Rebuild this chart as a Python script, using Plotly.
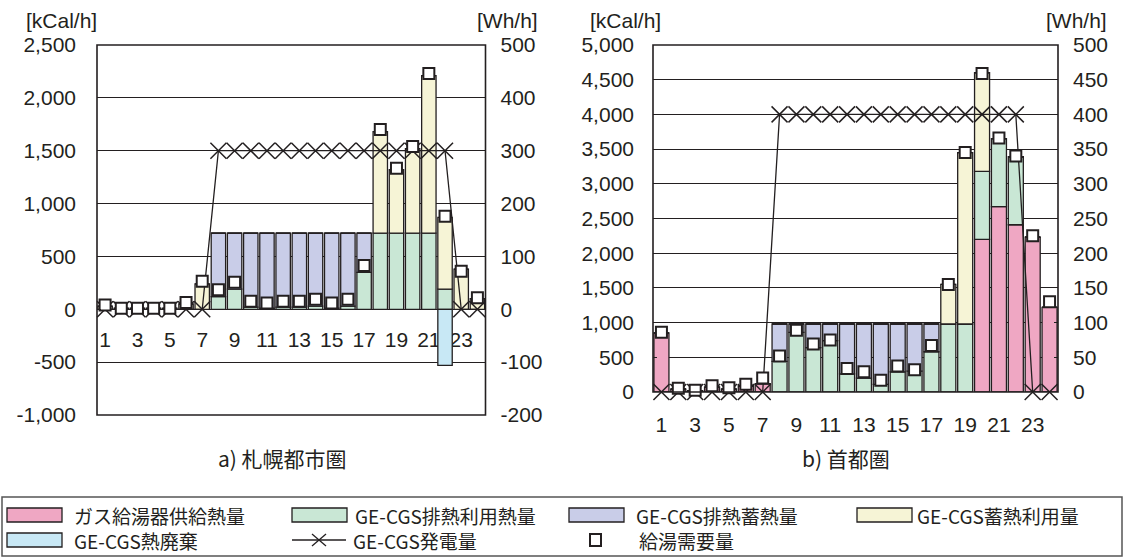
import plotly.graph_objects as go

W, H = 1124, 558

# ---------------- data ----------------
hours = [1, 2, 3, 4, 5, 6, 7, 8, 9, 10, 11, 12, 13, 14, 15, 16, 17, 18, 19, 20, 21, 22, 23, 24]
hour_ticks = [1, 3, 5, 7, 9, 11, 13, 15, 17, 19, 21, 23]

series_names = ["ガス給湯器供給熱量", "GE-CGS排熱利用熱量", "GE-CGS排熱蓄熱量",
                "GE-CGS蓄熱利用量", "GE-CGS熱廃棄", "GE-CGS発電量", "給湯需要量"]

# a) 札幌都市圏  [kCal/h]
sap_gas = [0, 0, 0, 0, 0, 0, 0, 0, 0, 0, 0, 0, 0, 0, 0, 0, 0, 0, 0, 0, 0, 0, 0, 0]
sap_used = [0, 0, 0, 0, 0, 0, 0, 120, 190, 20, 10, 20, 20, 30, 10, 30, 350, 720, 720, 720, 720, 190, 0, 0]
sap_stored = [0, 0, 0, 0, 0, 0, 0, 600, 530, 700, 710, 700, 700, 690, 710, 690, 370, 0, 0, 0, 0, 0, 0, 0]
sap_storage_use = [30, 10, 10, 10, 10, 50, 240, 0, 0, 0, 0, 0, 0, 0, 0, 0, 0, 960, 600, 800, 1490, 680, 380, 100]
sap_waste = [0, 0, 0, 0, 0, 0, 0, 0, 0, 0, 0, 0, 0, 0, 0, 0, 0, 0, 0, 0, 0, -530, 0, 0]
sap_power = [0, 0, 0, 0, 0, 0, 0, 300, 300, 300, 300, 300, 300, 300, 300, 300, 300, 300, 300, 300, 300, 300, 0, 0]
sap_demand = [40, 10, 10, 10, 10, 65, 265, 185, 255, 75, 60, 75, 75, 95, 60, 95, 415, 1700, 1335, 1540, 2230, 880, 360, 110]

# b) 首都圏  [kCal/h]
tok_gas = [850, 40, 20, 70, 40, 90, 120, 0, 0, 0, 0, 0, 0, 0, 0, 0, 0, 0, 0, 2200, 2670, 2410, 2230, 1220]
tok_used = [0, 0, 0, 0, 0, 0, 0, 440, 860, 640, 740, 260, 200, 110, 290, 300, 580, 980, 980, 980, 980, 980, 0, 0]
tok_stored = [0, 0, 0, 0, 0, 0, 0, 540, 120, 340, 240, 720, 780, 870, 690, 680, 400, 0, 0, 0, 0, 0, 0, 0]
tok_storage_use = [0, 0, 0, 0, 0, 0, 0, 0, 0, 0, 0, 0, 0, 0, 0, 0, 0, 570, 2470, 1420, 0, 0, 0, 0]
tok_waste = [0, 0, 0, 0, 0, 0, 0, 0, 0, 0, 0, 0, 0, 0, 0, 0, 0, 0, 0, 0, 0, 0, 0, 0]
tok_power = [0, 0, 0, 0, 0, 0, 0, 400, 400, 400, 400, 400, 400, 400, 400, 400, 400, 400, 400, 400, 400, 400, 0, 0]
tok_demand = [860, 55, 25, 90, 60, 110, 200, 520, 890, 690, 750, 340, 290, 170, 375, 320, 670, 1550, 3450, 4590, 3660, 3400, 2250, 1300]

# axis ticks
sap_left_vals = [-1000, -500, 0, 500, 1000, 1500, 2000, 2500]
sap_left_text = ["-1,000", "-500", "0", "500", "1,000", "1,500", "2,000", "2,500"]
sap_right_vals = [-200, -100, 0, 100, 200, 300, 400, 500]
sap_right_text = ["-200", "-100", "0", "100", "200", "300", "400", "500"]
tok_left_vals = [0, 500, 1000, 1500, 2000, 2500, 3000, 3500, 4000, 4500, 5000]
tok_left_text = ["0", "500", "1,000", "1,500", "2,000", "2,500", "3,000", "3,500", "4,000", "4,500", "5,000"]
tok_right_vals = [0, 50, 100, 150, 200, 250, 300, 350, 400, 450, 500]
tok_right_text = ["0", "50", "100", "150", "200", "250", "300", "350", "400", "450", "500"]

# ---------------- style ----------------
INK = "#231f20"
COLORS = ["#EFA7C3", "#C9E7D5", "#C9CDE8", "#F6F4D6", "#C8E8F5"]
TICKFONT = dict(family="Liberation Sans, Arial, sans-serif", size=21, color=INK)
JPFONT = "Noto Sans CJK JP, sans-serif"


def px_x(p):
    return p / W


def px_y(p):
    return 1 - p / H


L_X = [px_x(97), px_x(485.5)]
L_Y = [px_y(415), px_y(45)]
R_X = [px_x(653), px_x(1058)]
R_Y = [px_y(392), px_y(45)]

sap_range = [sap_left_vals[0], sap_left_vals[-1]]
zero_frac = (0 - sap_range[0]) / (sap_range[1] - sap_range[0])
sap_xpos = L_Y[0] + zero_frac * (L_Y[1] - L_Y[0])

fig = go.Figure()


def add_chart(xa, ya, ya2, ya_top, stacks, power, demand):
    for name, vals, col in zip(series_names[:5], stacks, COLORS):
        fig.add_trace(go.Bar(x=hours, y=vals, name=name, xaxis=xa, yaxis=ya,
                             marker=dict(color=col, line=dict(color=INK, width=1.3)),
                             showlegend=False))
    fig.add_trace(go.Scatter(x=hours, y=power, name=series_names[5], xaxis=xa, yaxis=ya2,
                             mode="lines+markers", cliponaxis=False,
                             line=dict(color=INK, width=1.3),
                             marker=dict(symbol="x-thin", size=16, line=dict(color=INK, width=1.5)),
                             showlegend=False))
    fig.add_trace(go.Scatter(x=hours, y=demand, name=series_names[6], xaxis=xa, yaxis=ya_top,
                             mode="markers", cliponaxis=False,
                             marker=dict(symbol="square", size=11, color="white",
                                         line=dict(color=INK, width=2)),
                             showlegend=False))


add_chart("x", "y", "y2", "y5",
          [sap_gas, sap_used, sap_stored, sap_storage_use, sap_waste], sap_power, sap_demand)
add_chart("x2", "y3", "y4", "y6",
          [tok_gas, tok_used, tok_stored, tok_storage_use, tok_waste], tok_power, tok_demand)

xcommon = dict(range=[0.5, 24.5], tickmode="array", tickvals=hour_ticks,
               ticktext=[str(h) for h in hour_ticks], showgrid=False, zeroline=False,
               showline=False, ticks="", tickfont=TICKFONT, automargin=False,
               layer="below traces", fixedrange=True)
ycommon = dict(showgrid=True, gridcolor=INK, gridwidth=1.2, zeroline=False, showline=False,
               ticks="inside", ticklen=4, tickcolor=INK, tickfont=TICKFONT, automargin=False,
               tickmode="array")

fig.update_layout(
    width=W, height=H, margin=dict(l=0, r=0, t=0, b=0),
    paper_bgcolor="white", plot_bgcolor="white",
    barmode="relative", bargap=0.11, showlegend=False,
    xaxis=dict(xcommon, domain=L_X, anchor="free", position=sap_xpos, ticklabelstandoff=16),
    xaxis2=dict(xcommon, domain=R_X, anchor="y3", ticklabelstandoff=18),
    yaxis=dict(ycommon, domain=L_Y, anchor="x", range=sap_range,
               tickvals=sap_left_vals, ticktext=sap_left_text, ticklabelstandoff=20),
    yaxis2=dict(ycommon, anchor="x", overlaying="y", side="right", showgrid=False,
                range=[sap_right_vals[0], sap_right_vals[-1]],
                tickvals=sap_right_vals, ticktext=sap_right_text, ticklabelstandoff=14),
    yaxis5=dict(anchor="x", overlaying="y", matches="y", visible=False),
    yaxis3=dict(ycommon, domain=R_Y, anchor="x2", range=[tok_left_vals[0], tok_left_vals[-1]],
                tickvals=tok_left_vals, ticktext=tok_left_text, ticklabelstandoff=18),
    yaxis4=dict(ycommon, anchor="x2", overlaying="y3", side="right", showgrid=False,
                range=[tok_right_vals[0], tok_right_vals[-1]],
                tickvals=tok_right_vals, ticktext=tok_right_text, ticklabelstandoff=14),
    yaxis6=dict(anchor="x2", overlaying="y3", matches="y3", visible=False),
)

shapes = [
    dict(type="rect", xref="x domain", yref="y domain", x0=0, x1=1, y0=0, y1=1,
         line=dict(color=INK, width=1.6), layer="above"),
    dict(type="rect", xref="x2 domain", yref="y3 domain", x0=0, x1=1, y0=0, y1=1,
         line=dict(color=INK, width=1.6), layer="above"),
    # legend frame
    dict(type="rect", xref="paper", yref="paper", x0=px_x(2), x1=px_x(1122),
         y0=px_y(556), y1=px_y(497), line=dict(color="#555", width=1.5)),
]
annotations = []


def ann(text, x, y, size, family, xanchor="left"):
    annotations.append(dict(text=text, x=px_x(x), y=px_y(y), xref="paper", yref="paper",
                            showarrow=False, xanchor=xanchor, yanchor="middle",
                            font=dict(family=family, size=size, color=INK)))


UNITFONT = "Liberation Sans, Arial, sans-serif"
ann("[kCal/h]", 99, 20, 21, UNITFONT, "right")
ann("[Wh/h]", 540, 20, 21, UNITFONT, "right")
ann("[kCal/h]", 663, 20, 21, UNITFONT, "right")
ann("[Wh/h]", 1109, 20, 21, UNITFONT, "right")
ann("a) 札幌都市圏", 282, 458, 21, JPFONT, "center")
ann("b) 首都圏", 846, 458, 21, JPFONT, "center")

# legend (manual, laid out like the original)
row1, row2 = 515, 540
patch_items = [
    (7, row1, 72, COLORS[0], series_names[0]),
    (292, row1, 353, COLORS[1], series_names[1]),
    (569, row1, 634, COLORS[2], series_names[2]),
    (857, row1, 915, COLORS[3], series_names[3]),
    (7, row2, 72, COLORS[4], series_names[4]),
]
for x0, yc, tx, col, name in patch_items:
    shapes.append(dict(type="rect", xref="paper", yref="paper",
                       x0=px_x(x0), x1=px_x(x0 + 55), y0=px_y(yc + 7), y1=px_y(yc - 7),
                       fillcolor=col, line=dict(color=INK, width=1.3)))
    ann(name, tx, yc, 19, JPFONT)

# power line symbol
shapes.append(dict(type="line", xref="paper", yref="paper", x0=px_x(292), x1=px_x(346),
                   y0=px_y(row2), y1=px_y(row2), line=dict(color=INK, width=1.3)))
shapes.append(dict(type="line", xref="paper", yref="paper", x0=px_x(312), x1=px_x(326),
                   y0=px_y(row2 - 6), y1=px_y(row2 + 6), line=dict(color=INK, width=1.3)))
shapes.append(dict(type="line", xref="paper", yref="paper", x0=px_x(312), x1=px_x(326),
                   y0=px_y(row2 + 6), y1=px_y(row2 - 6), line=dict(color=INK, width=1.3)))
ann(series_names[5], 351, row2, 19, JPFONT)
# demand square symbol
shapes.append(dict(type="rect", xref="paper", yref="paper", x0=px_x(590), x1=px_x(601),
                   y0=px_y(row2 + 6), y1=px_y(row2 - 6), fillcolor="white",
                   line=dict(color=INK, width=2)))
ann(series_names[6], 637, row2, 19, JPFONT)

fig.update_layout(shapes=shapes, annotations=annotations)
fig.write_html("out.html", config={"displayModeBar": False},
               post_script="document.body.style.margin='0';")
